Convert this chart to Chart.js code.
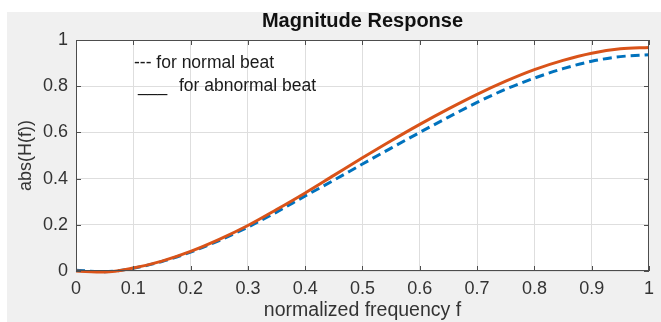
<!DOCTYPE html>
<html>
<head>
<meta charset="utf-8">
<script src="https://cdn.jsdelivr.net/npm/chart.js@4/dist/chart.umd.min.js"></script>
<style>
  html, body { margin: 0; padding: 0; background: #ffffff; }
  #wrap { position: relative; width: 661px; height: 322px; }
</style>
</head>
<body>
<div id="wrap"><canvas id="mag-chart" width="661" height="322"></canvas></div>
<script>
// --- Data ---
const freqs = [0, 0.05, 0.1, 0.15, 0.2, 0.25, 0.3, 0.35, 0.4, 0.45, 0.5,
               0.55, 0.6, 0.65, 0.7, 0.75, 0.8, 0.85, 0.9, 0.95, 1.0];
const normalBeat = [0.003, -0.003, 0.012, 0.041, 0.082, 0.132, 0.19, 0.255, 0.325, 0.393, 0.463,
                    0.532, 0.600, 0.666, 0.730, 0.787, 0.835, 0.876, 0.908, 0.928, 0.936];
const abnormalBeat = [0, -0.004, 0.013, 0.043, 0.085, 0.137, 0.197, 0.266, 0.338, 0.414, 0.49,
                      0.564, 0.635, 0.702, 0.765, 0.822, 0.872, 0.912, 0.943, 0.962, 0.968];
const xTicks = [0, 0.1, 0.2, 0.3, 0.4, 0.5, 0.6, 0.7, 0.8, 0.9, 1];
const yTicks = [0, 0.2, 0.4, 0.6, 0.8, 1];
const chartTitle = 'Magnitude Response';
const legendNormal = '--- for normal beat';
const legendAbnormalMark = '___';
const legendAbnormal = 'for abnormal beat';

// --- Colour tokens ---
const COLORS = {
    normal: '#0072bd',
    abnormal: '#d95319',
    figureBg: '#f0f0f0',
    axis: '#4d4d4d',
    grid: '#dedede',
    text: '#333333',
};
const FONT = "'Liberation Sans', Arial, sans-serif";

const toPoints = ys => freqs.map((f, i) => ({ x: f, y: ys[i] }));

// Grey figure background + white axes box
const backdrop = {
    id: 'backdrop',
    beforeDraw(chart) {
        const { ctx, chartArea: a } = chart;
        ctx.save();
        ctx.fillStyle = COLORS.figureBg;
        ctx.fillRect(7, 12, chart.width - 7, chart.height - 12);
        ctx.fillStyle = '#ffffff';
        ctx.fillRect(a.left, a.top, a.right - a.left, a.bottom - a.top);
        ctx.restore();
    }
};

// MATLAB-style box with inward ticks, title over the axes, text legend
const boxAndLegend = {
    id: 'boxAndLegend',
    afterDraw(chart) {
        const { ctx, chartArea: a, scales: { x, y } } = chart;
        ctx.save();
        ctx.strokeStyle = COLORS.axis;
        ctx.lineWidth = 1;
        ctx.strokeRect(a.left + 0.5, a.top + 0.5, a.right - a.left - 1, a.bottom - a.top - 1);
        const len = 5;
        ctx.beginPath();
        xTicks.forEach(v => {
            const px = Math.round(x.getPixelForValue(v)) + 0.5;
            ctx.moveTo(px, a.bottom); ctx.lineTo(px, a.bottom - len);
            ctx.moveTo(px, a.top); ctx.lineTo(px, a.top + len);
        });
        yTicks.forEach(v => {
            const py = Math.round(y.getPixelForValue(v)) + 0.5;
            ctx.moveTo(a.left, py); ctx.lineTo(a.left + len, py);
            ctx.moveTo(a.right, py); ctx.lineTo(a.right - len, py);
        });
        ctx.stroke();

        // title centred over the axes box
        ctx.fillStyle = '#111111';
        ctx.font = 'bold 20px ' + FONT;
        ctx.textAlign = 'center';
        ctx.textBaseline = 'middle';
        ctx.fillText(chartTitle, (a.left + a.right) / 2, 21);

        // legend written as plain text, like the original
        ctx.fillStyle = '#1a1a1a';
        ctx.font = '17.5px ' + FONT;
        ctx.textAlign = 'left';
        ctx.fillText(legendNormal, 134, 63);
        ctx.fillText(legendAbnormalMark, 138, 86);
        ctx.fillText(legendAbnormal, 179, 86);
        ctx.restore();
    }
};

new Chart(document.getElementById('mag-chart'), {
    type: 'line',
    data: {
        datasets: [
            {
                label: 'for abnormal beat',
                data: toPoints(abnormalBeat),
                borderColor: COLORS.abnormal,
                borderWidth: 3,
                pointRadius: 0,
                cubicInterpolationMode: 'monotone',
                clip: false,
                order: 1,
            },
            {
                label: 'for normal beat',
                data: toPoints(normalBeat),
                borderColor: COLORS.normal,
                borderWidth: 3,
                borderDash: [9, 5],
                pointRadius: 0,
                cubicInterpolationMode: 'monotone',
                clip: false,
                order: 2,
            }
        ]
    },
    options: {
        responsive: false,
        animation: false,
        layout: { padding: { left: 0, right: 6, top: 40, bottom: 0 } },
        plugins: {
            legend: { display: false },
            tooltip: { enabled: false },
            title: { display: false },
        },
        scales: {
            x: {
                type: 'linear',
                min: 0,
                max: 1,
                afterBuildTicks: s => { s.ticks = xTicks.map(v => ({ value: v })); },
                afterFit: s => { s.height = 51; },
                grid: { color: COLORS.grid, drawTicks: false },
                border: { display: false },
                ticks: {
                    color: COLORS.text,
                    font: { family: FONT, size: 18 },
                    padding: 7,
                    maxRotation: 0,
                    callback: v => String(v),
                },
                title: {
                    display: true,
                    text: 'normalized frequency f',
                    color: COLORS.text,
                    font: { family: FONT, size: 19.5 },
                    padding: { top: 0, bottom: 0 },
                }
            },
            y: {
                min: 0,
                max: 1,
                afterBuildTicks: s => { s.ticks = yTicks.map(v => ({ value: v })); },
                afterFit: s => { s.width = 76; },
                grid: { color: COLORS.grid, drawTicks: false },
                border: { display: false },
                ticks: {
                    color: COLORS.text,
                    font: { family: FONT, size: 18 },
                    padding: 8,
                    callback: v => String(v),
                },
                title: {
                    display: true,
                    text: 'abs(H(f))',
                    color: COLORS.text,
                    font: { family: FONT, size: 18 },
                    padding: { top: 15, bottom: 0 },
                }
            }
        }
    },
    plugins: [backdrop, boxAndLegend]
});
</script>
</body>
</html>
